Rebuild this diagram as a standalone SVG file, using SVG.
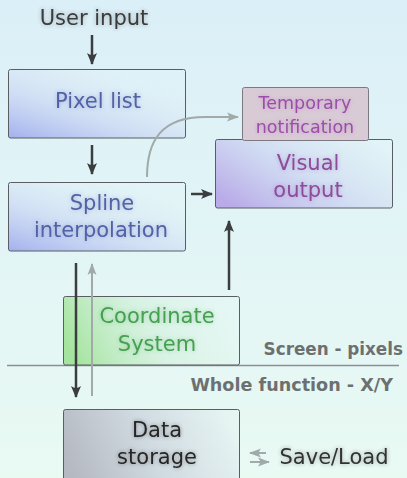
<svg xmlns="http://www.w3.org/2000/svg" width="407" height="478" viewBox="0 0 407 478">
<defs>
<linearGradient id="bg" x1="0" y1="0" x2="0" y2="1">
<stop offset="0" stop-color="#dbeff8"/>
<stop offset="1" stop-color="#e9faf3"/>
</linearGradient>
<linearGradient id="gBlue" x1="0" y1="1" x2="0.75" y2="0.1">
<stop offset="0" stop-color="#a2b0ee"/>
<stop offset="0.45" stop-color="#c9d6f3" stop-opacity="0.7"/>
<stop offset="1" stop-color="#e6f4f8" stop-opacity="0.2"/>
</linearGradient>
<linearGradient id="gPurple" x1="0" y1="0.8" x2="1" y2="0.2">
<stop offset="0" stop-color="#b9abe8"/>
<stop offset="0.5" stop-color="#ced8f2" stop-opacity="0.8"/>
<stop offset="1" stop-color="#e2f4f6" stop-opacity="0.6"/>
</linearGradient>
<linearGradient id="gGreen" x1="0" y1="0.6" x2="1" y2="0.4">
<stop offset="0" stop-color="#a5e49e"/>
<stop offset="0.5" stop-color="#cfefd8" stop-opacity="0.6"/>
<stop offset="1" stop-color="#e6f8f4" stop-opacity="0.4"/>
</linearGradient>
<linearGradient id="gGray" x1="0" y1="0.6" x2="1" y2="0.4">
<stop offset="0" stop-color="#b5b9c1"/>
<stop offset="0.5" stop-color="#d0dae1"/>
<stop offset="1" stop-color="#e6f4f2"/>
</linearGradient>
<filter id="glow" x="-20%" y="-40%" width="140%" height="180%">
<feGaussianBlur in="SourceGraphic" stdDeviation="2" result="b"/>
<feComponentTransfer in="b" result="b2"><feFuncA type="linear" slope="0.4"/></feComponentTransfer>
<feMerge><feMergeNode in="b2"/><feMergeNode in="SourceGraphic"/></feMerge>
</filter>
<marker id="aDark" markerUnits="userSpaceOnUse" viewBox="0 0 12 12" refX="11" refY="6" markerWidth="12" markerHeight="12" orient="auto">
<path d="M0,1 L12,6 L0,11 Q4,6 0,1 Z" fill="#3b3d3e"/>
</marker>
<marker id="aGray" markerUnits="userSpaceOnUse" viewBox="0 0 12 12" refX="11" refY="6" markerWidth="12" markerHeight="12" orient="auto">
<path d="M0,1.5 L12,6 L0,10.5 Q4,6 0,1.5 Z" fill="#a1a9a9"/>
</marker>
</defs>
<style>
.box{stroke:#5a5e62;stroke-width:1}
.t{font-family:"DejaVu Sans",sans-serif;font-size:21px;text-anchor:middle;filter:url(#glow)}
.lbl{font-family:"DejaVu Sans",sans-serif;font-weight:bold;font-size:16.8px;fill:#6d7071;text-anchor:end}
.dark{stroke:#3b3d3e;stroke-width:2.5;fill:none}
.gray{stroke:#a1a9a9;stroke-width:2;fill:none}
</style>
<rect x="0" y="0" width="407" height="478" fill="url(#bg)"/>

<g id="divider">
<line x1="7" y1="365.5" x2="399" y2="365.5" stroke="#8c9090" stroke-width="1.5"/>
<text class="lbl" x="403" y="355">Screen - pixels</text>
<text class="lbl" x="393" y="391" style="font-size:17.6px">Whole function - X/Y</text>
</g>

<g id="user-input">
<text class="t" x="94" y="25" fill="#3a3a3a">User input</text>
</g>

<g id="pixel-list">
<rect class="box" x="8.5" y="69.5" width="177" height="68.5" rx="2" fill="url(#gBlue)"/>
<text class="t" x="98" y="108" fill="#5262a8">Pixel list</text>
</g>

<g id="spline">
<rect class="box" x="8.5" y="182.5" width="177" height="68.5" rx="2" fill="url(#gBlue)"/>
<text class="t" x="102" y="210" fill="#5262a8">Spline</text>
<text class="t" x="101" y="237" fill="#5262a8">interpolation</text>
</g>

<g id="visual-output">
<rect class="box" x="215.5" y="139.5" width="177" height="68.5" rx="2" fill="url(#gPurple)"/>
<text class="t" x="308" y="170" fill="#8c4c9c">Visual</text>
<text class="t" x="308" y="197" fill="#8c4c9c">output</text>
</g>

<g id="temporary-notification">
<rect x="242.5" y="87.5" width="126" height="53" rx="2" fill="#d9cbd6" stroke="#7c7880" stroke-width="1"/>
<text class="t" x="305" y="109" fill="#9c4eaa" style="font-size:17.5px">Temporary</text>
<text class="t" x="305" y="133" fill="#9c4eaa" style="font-size:17.5px">notification</text>
</g>

<g id="coordinate-system">
<rect class="box" x="63.5" y="296.5" width="176" height="68.5" rx="2" fill="url(#gGreen)"/>
<text class="t" x="157" y="323" fill="#45a050">Coordinate</text>
<text class="t" x="157" y="351" fill="#45a050">System</text>
</g>

<g id="data-storage">
<rect class="box" x="63.5" y="409.5" width="176" height="80" rx="2" fill="url(#gGray)"/>
<text class="t" x="157" y="437" fill="#262626">Data</text>
<text class="t" x="157" y="464" fill="#262626">storage</text>
</g>

<g id="save-load">
<text class="t" x="334" y="464" fill="#333">Save/Load</text>
</g>

<g id="connectors">
<line class="dark" x1="92" y1="35" x2="92" y2="64" marker-end="url(#aDark)"/>
<line class="dark" x1="92" y1="145" x2="92" y2="174" marker-end="url(#aDark)"/>
<line class="dark" x1="191" y1="194" x2="212" y2="194" marker-end="url(#aDark)"/>
<line class="dark" x1="229" y1="290" x2="229" y2="221" marker-end="url(#aDark)"/>
<path class="gray" d="M147,177 C147,140 162,117 205,117 L238,117" marker-end="url(#aGray)"/>
<line class="gray" x1="92" y1="396" x2="92" y2="264" marker-end="url(#aGray)"/>
<line class="dark" x1="76" y1="263" x2="76" y2="397" marker-end="url(#aDark)"/>
<line class="gray" x1="266" y1="453" x2="250" y2="453" stroke-width="1.5" marker-end="url(#aGray)"/>
<line class="gray" x1="250" y1="462" x2="269" y2="462" stroke-width="1.5" marker-end="url(#aGray)"/>
</g>
</svg>
